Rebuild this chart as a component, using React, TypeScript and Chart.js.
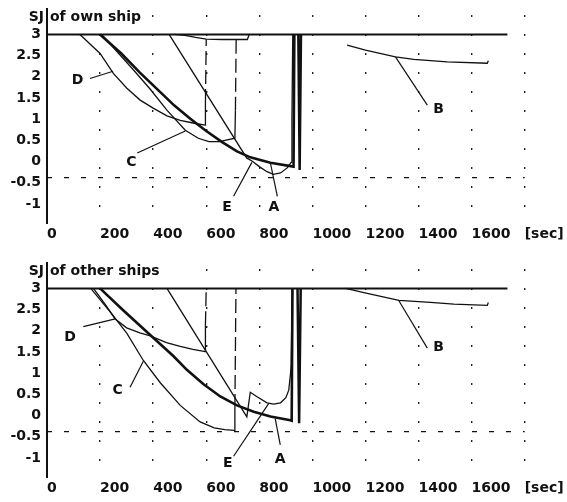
import React, { useEffect, useRef } from 'react';
import { Chart, registerables } from 'chart.js';

Chart.register(...registerables);

type Pt = { x: number; y: number };
type Lbl = { text: string; x: number; y: number };

const P = (arr: number[][]): Pt[] => arr.map(([x, y]) => ({ x, y }));

// ---- axes ----
const xTickValues = [0, 200, 400, 600, 800, 1000, 1200, 1400, 1600, 1800];
const xTickLabels = ['0', '200', '400', '600', '800', '1000', '1200', '1400', '1600', '[sec]'];
const yTickValues = [3, 2.5, 2, 1.5, 1, 0.5, 0, -0.5, -1];
const yTickLabels = ['3', '2.5', '2', '1.5', '1', '0.5', '0', '-0.5', '-1'];
const xMin = 0;
const xMax = 1820;
const yMin = -1.45;
const yMax = 3.6;

// common reference lines
const thresholdLine = P([[0, -0.38], [1800, -0.38]]);
const ceilingLine = P([[0, 3], [1735, 3]]);

// ---- SJ of own ship ----
const ownA = P([[200, 3], [280, 2.55], [350, 2.1], [420, 1.68], [480, 1.32], [540, 1.01], [600, 0.72], [660, 0.46], [716, 0.24], [766, 0.1], [842, -0.03], [929, -0.12], [932, 3]]);
const ownB = P([[1131, 2.75], [1200, 2.63], [1313, 2.47], [1382, 2.41], [1508, 2.35], [1659, 2.32], [1663, 2.38]]);
const ownC = P([[206, 3], [260, 2.62], [326, 2.16], [390, 1.7], [451, 1.22], [521, 0.74], [570, 0.55], [610, 0.47], [650, 0.47], [708, 0.55], [710, 1.2], [713, 3]]);
const ownD = P([[124, 3], [200, 2.55], [250, 2.08], [301, 1.73], [351, 1.45], [400, 1.26], [452, 1.08], [502, 0.97], [550, 0.91], [596, 0.86], [597, 1.38], [600, 2.88]]);
const ownE = P([[460, 3], [753, 0.08], [762, 0.05], [775, 0.0], [800, -0.12], [829, -0.24], [853, -0.3], [880, -0.27], [905, -0.15], [920, -0.02], [923, 1.0], [926, 3]]);
const ownDip = P([[480, 3], [520, 2.98], [560, 2.93], [600, 2.89], [660, 2.88], [755, 2.88], [762, 3]]);
const ownSpike = P([[947, 3], [952, -0.2], [957, 3]]);
const ownLeaders = [
  P([[868, -0.82], [842, -0.04]]),
  P([[1433, 1.33], [1313, 2.47]]),
  P([[340, 0.2], [521, 0.72]]),
  P([[162, 1.96], [249, 2.13]]),
  P([[703, -0.82], [772, -0.02]]),
];
const ownLabels: Lbl[] = [
  { text: 'A', x: 855, y: -1.07 },
  { text: 'B', x: 1476, y: 1.22 },
  { text: 'C', x: 318, y: -0.03 },
  { text: 'D', x: 115, y: 1.92 },
  { text: 'E', x: 678, y: -1.07 },
];

// ---- SJ of other ships ----
const othA = P([[200, 3], [288, 2.48], [389, 1.9], [477, 1.4], [527, 1.08], [590, 0.74], [653, 0.45], [716, 0.24], [779, 0.09], [842, -0.02], [917, -0.11], [922, -0.12], [925, 3]]);
const othB = P([[1125, 3], [1194, 2.9], [1326, 2.72], [1445, 2.67], [1533, 2.63], [1659, 2.6], [1663, 2.67]]);
const othC = P([[165, 3], [244, 2.4], [301, 1.94], [363, 1.3], [426, 0.78], [502, 0.24], [577, -0.15], [630, -0.29], [670, -0.33], [705, -0.35], [708, 0.18], [712, 3]]);
const othD = P([[175, 3], [220, 2.62], [257, 2.28], [300, 2.07], [350, 1.95], [389, 1.88], [450, 1.72], [502, 1.63], [550, 1.56], [596, 1.51], [597, 2.13], [600, 3]]);
const othE = P([[452, 3], [753, -0.03], [766, 0.55], [790, 0.45], [829, 0.3], [854, 0.27], [880, 0.3], [900, 0.42], [911, 0.6], [917, 0.95], [920, 1.2], [924, 3]]);
const othSpike = P([[944, 3], [950, -0.18], [956, 3]]);
const othLeaders = [
  P([[879, -0.69], [860, -0.07]]),
  P([[1433, 1.59], [1326, 2.71]]),
  P([[313, 0.67], [363, 1.28]]),
  P([[137, 2.1], [257, 2.28]]),
  P([[703, -0.96], [835, 0.28]]),
];
const othLabels: Lbl[] = [
  { text: 'A', x: 879, y: -1.04 },
  { text: 'B', x: 1476, y: 1.6 },
  { text: 'C', x: 266, y: 0.6 },
  { text: 'D', x: 87, y: 1.85 },
  { text: 'E', x: 681, y: -1.13 },
];

const INK = '#111111';
const FONT = '"DejaVu Sans", sans-serif';
const PLOT_BOTTOM = 223;

type PanelDef = {
  title: string;
  A: Pt[]; B: Pt[]; C: Pt[]; D: Pt[]; E: Pt[];
  dip?: Pt[];
  spike: Pt[];
  leaders: Pt[][];
  labels: Lbl[];
};

const ownPanel: PanelDef = { title: 'of own ship', A: ownA, B: ownB, C: ownC, D: ownD, E: ownE, dip: ownDip, spike: ownSpike, leaders: ownLeaders, labels: ownLabels };
const othPanel: PanelDef = { title: 'of other ships', A: othA, B: othB, C: othC, D: othD, E: othE, spike: othSpike, leaders: othLeaders, labels: othLabels };

function line(data: Pt[], width: number, extra: any = {}) {
  return {
    data,
    borderColor: INK,
    backgroundColor: INK,
    borderWidth: width,
    pointRadius: 0,
    showLine: true,
    fill: false,
    tension: 0,
    ...extra,
  };
}

function dashLast(n: number) {
  return {
    segment: {
      borderDash: (ctx: any) => (ctx.p1DataIndex === n - 1 ? [14, 5] : undefined),
    },
  };
}

function makeConfig(p: PanelDef, height: number): any {
  const datasets: any[] = [
    line(thresholdLine, 1.3, { borderDash: [5, 12] }),
    line(ceilingLine, 2),
    line(p.B, 1.3),
    line(p.C, 1.3, dashLast(p.C.length)),
    line(p.D, 1.3, dashLast(p.D.length)),
    line(p.E, 1.3),
    line(p.A, 2.6),
    line(p.spike, 2.5),
    ...p.leaders.map((l) => line(l, 1.2)),
  ];
  if (p.dip) datasets.push(line(p.dip, 1.3));

  const annotate = {
    id: 'annotate',
    afterDatasetsDraw(chart: any) {
      const { ctx, chartArea, scales } = chart;
      ctx.save();
      ctx.fillStyle = INK;
      ctx.font = `bold 14px ${FONT}`;
      ctx.textBaseline = 'middle';
      ctx.textAlign = 'right';
      ctx.fillText('SJ', chartArea.left - 3, chartArea.top + 8.5);
      ctx.textAlign = 'left';
      ctx.fillText(p.title, chartArea.left + 3, chartArea.top + 8.5);
      ctx.textAlign = 'center';
      p.labels.forEach((l) => {
        ctx.fillText(l.text, scales.x.getPixelForValue(l.x), scales.y.getPixelForValue(l.y));
      });
      ctx.restore();
    },
  };

  return {
    type: 'scatter',
    data: { datasets },
    plugins: [annotate],
    options: {
      responsive: false,
      animation: false,
      showLine: true,
      layout: { padding: { top: 9, right: 37, left: 0, bottom: 0 } },
      plugins: { legend: { display: false }, tooltip: { enabled: false }, title: { display: false } },
      scales: {
        x: {
          type: 'linear',
          min: xMin,
          max: xMax,
          afterBuildTicks: (scale: any) => {
            scale.ticks = xTickValues.map((v) => ({ value: v }));
          },
          afterFit: (scale: any) => {
            scale.height = height - PLOT_BOTTOM;
            scale.paddingLeft = 0;
            scale.paddingRight = 0;
          },
          ticks: {
            autoSkip: false,
            maxRotation: 0,
            minRotation: 0,
            align: 'start',
            padding: 3,
            color: INK,
            font: { family: FONT, size: 14, weight: 'bold' },
            callback: (v: number) => xTickLabels[xTickValues.indexOf(v)] ?? '',
          },
          grid: {
            drawTicks: false,
            lineWidth: 1.4,
            color: (ctx: any) => (ctx.tick && ctx.tick.value === 0 ? 'rgba(0,0,0,0)' : '#222222'),
          },
          border: { display: false, dash: [2, 17], dashOffset: -6 },
        },
        y: {
          type: 'linear',
          min: yMin,
          max: yMax,
          afterBuildTicks: (scale: any) => {
            scale.ticks = yTickValues.map((v) => ({ value: v }));
          },
          afterFit: (scale: any) => {
            scale.width = 47;
            scale.paddingTop = 0;
            scale.paddingBottom = 0;
          },
          ticks: {
            padding: 6,
            color: INK,
            font: { family: FONT, size: 14, weight: 'bold' },
            callback: (v: number) => yTickLabels[yTickValues.indexOf(v)] ?? '',
          },
          grid: { display: false, drawTicks: false },
          border: { display: true, color: INK, width: 2 },
        },
      },
    },
  };
}

function Panel({ def, top, height }: { def: PanelDef; top: number; height: number }) {
  const ref = useRef<HTMLCanvasElement>(null);
  useEffect(() => {
    if (!ref.current) return;
    const chart = new Chart(ref.current, makeConfig(def, height));
    return () => chart.destroy();
  }, [def, height]);
  return (
    <canvas
      ref={ref}
      width={567}
      height={height}
      style={{ position: 'absolute', left: 0, top, width: 567, height, display: 'block' }}
    />
  );
}

export default function App() {
  return (
    <div style={{ position: 'fixed', left: 0, top: 0, width: 567, height: 502, background: '#fff', overflow: 'hidden' }}>
      <Panel def={ownPanel} top={0} height={250} />
      <Panel def={othPanel} top={254} height={248} />
    </div>
  );
}
